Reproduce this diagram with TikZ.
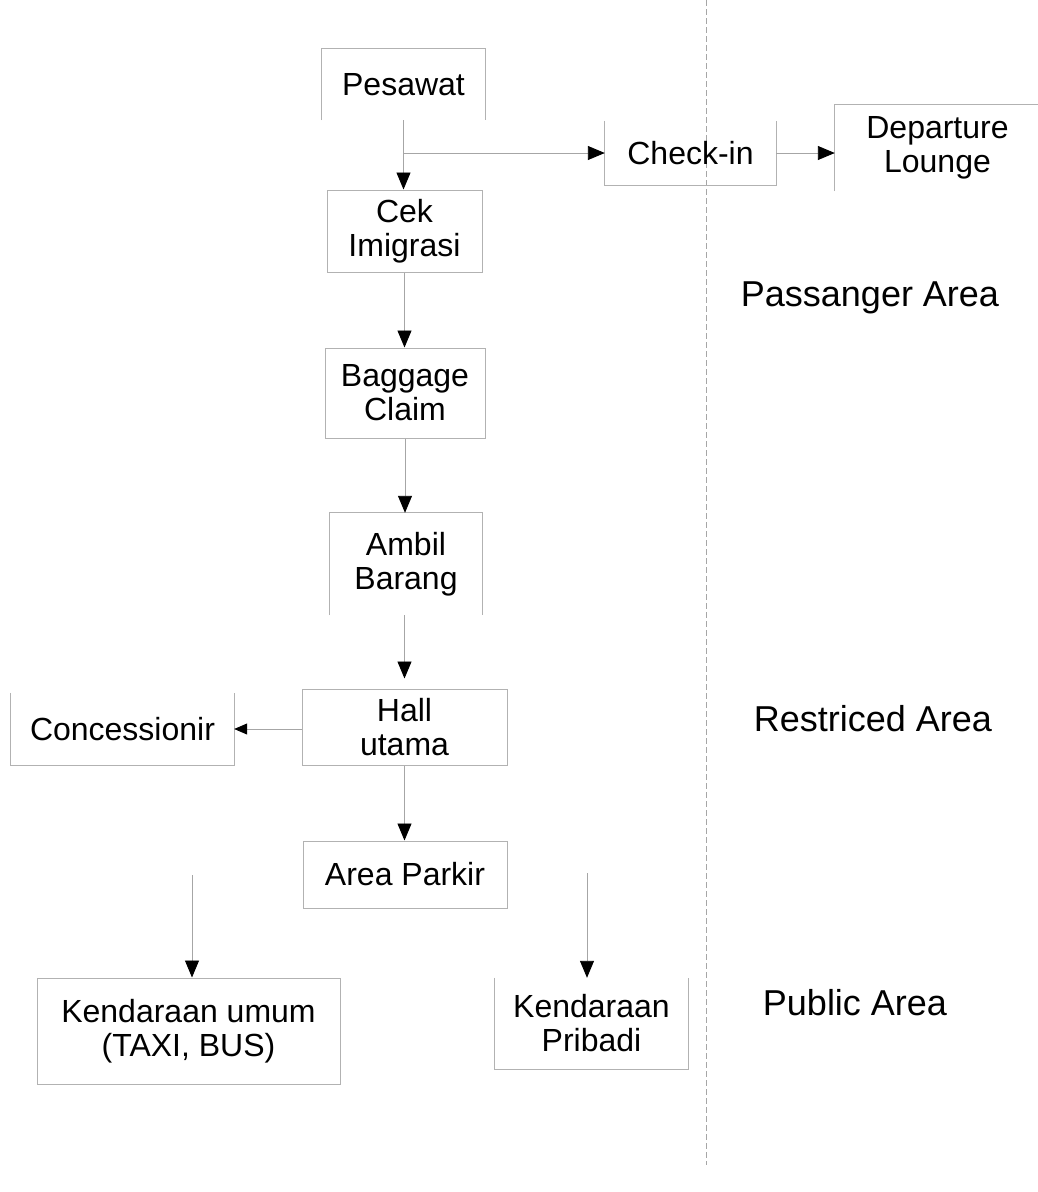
\documentclass[tikz,border=0pt]{standalone}
\usepackage{fontspec}
\setmainfont{Liberation Sans}
\usetikzlibrary{arrows.meta}
\begin{document}
\begin{tikzpicture}[x=1pt,y=-1pt,
 boxtxt/.style={inner sep=0pt, align=center, font=\fontsize{32}{34}\selectfont},
 fullbox/.style={boxtxt, draw=gray!60, line width=1pt},
 edge/.style={draw=gray!60, line width=1pt},
 flow/.style={draw=gray!70, line width=0.9pt, -{Triangle[length=17pt,width=14pt,color=black]}},
 flowsm/.style={draw=gray!70, line width=0.9pt, -{Triangle[length=13pt,width=11pt,color=black]}},
 area/.style={font=\fontsize{36}{40}\selectfont, inner sep=0pt},
 divider/.style={draw=gray!70, line width=1pt, dash pattern=on 6pt off 3pt}]
\useasboundingbox (0,0) rectangle (1038,1192);
\fill[white] (0,0) rectangle (1038,1192);

% divider
\coordinate (dtop) at (706,0);
\coordinate (dbot) at (706,1165);
\draw[divider] (dtop) -- (dbot);

% boxes
\node[boxtxt, minimum width=163pt, minimum height=71pt] (pes) at (403.5,84.5) {Pesawat};
\draw[edge] (pes.south west) -- (pes.north west) -- (pes.north east) -- (pes.south east);

\node[boxtxt, minimum width=171pt, minimum height=64pt] (chk) at (690.5,153) {Check-in};
\draw[edge] (chk.north west) -- (chk.south west) -- (chk.south east) -- (chk.north east);

\node[boxtxt, minimum width=205pt, minimum height=86pt] (dep) at (937.5,148) {Departure\\Lounge};
\draw[edge] (dep.south west) -- (dep.north west) -- (dep.north east);

\node[fullbox, minimum width=155pt, minimum height=82pt] (cek) at (404.5,231) {Cek\\Imigrasi};
\node[fullbox, minimum width=160pt, minimum height=90pt] (bag) at (405,393) {Baggage\\Claim};

\node[boxtxt, minimum width=152pt, minimum height=102pt] (amb) at (406,564) {Ambil\\Barang};
\draw[edge] (amb.south west) -- (amb.north west) -- (amb.north east) -- (amb.south east);

\node[fullbox, minimum width=205pt, minimum height=76pt] (hall) at (404.5,727) {Hall\\utama};

\node[boxtxt, minimum width=223pt, minimum height=72pt] (con) at (122.5,729) {Concessionir};
\draw[edge] (con.north west) -- (con.south west) -- (con.south east) -- (con.north east);

\node[fullbox, minimum width=204pt, minimum height=67pt] (park) at (405,874.5) {Area Parkir};

\node[fullbox, minimum width=303pt, minimum height=106pt] (kum) at (188.5,1031) {Kendaraan umum\\(TAXI, BUS)};

\node[boxtxt, minimum width=193pt, minimum height=91pt] (kpr) at (591.5,1023.5) {Kendaraan\\Pribadi};
\draw[edge] (kpr.north west) -- (kpr.south west) -- (kpr.south east) -- (kpr.north east);

% area labels
\node[area] (lpa) at (870,298) {Passanger Area};
\node[area] (lra) at (873,719) {Restriced Area};
\node[area] (lpu) at (855,1003) {Public Area};

% connectors
\coordinate (br) at (pes.south |- chk.west);
\draw[flow] (pes.south) -- (pes.south |- cek.north);
\draw[flow] (br) -- (chk.west);
\draw[flow] (chk.east) -- (chk.east -| dep.west);
\draw[flow] (cek.south) -- (cek.south |- bag.north);
\draw[flow] (bag.south) -- (bag.south |- amb.north);
\draw[flow, shorten >=10pt] (hall.north |- amb.south) -- (hall.north);
\draw[flowsm] (con.east -| hall.west) -- (con.east);
\draw[flow] (hall.south) -- (hall.south |- park.north);
\coordinate (ku0) at (192,875);
\draw[flow] (ku0) -- (ku0 |- kum.north);
\coordinate (kp0) at (587,873);
\draw[flow] (kp0) -- (kp0 |- kpr.north);
\end{tikzpicture}
\end{document}
